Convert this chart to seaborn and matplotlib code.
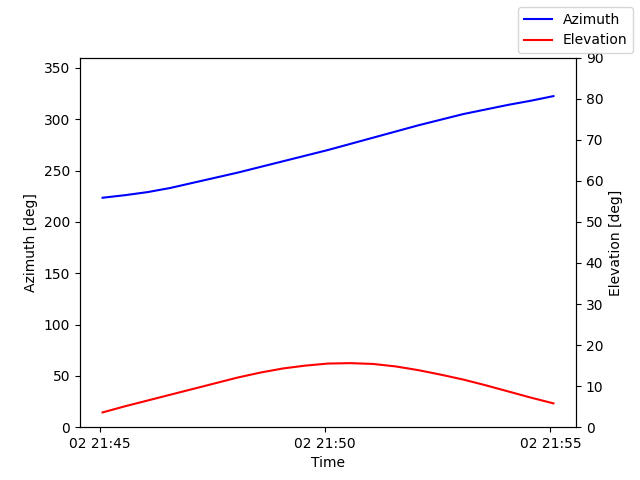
import numpy as np
import pandas as pd
import matplotlib
matplotlib.use("Agg")
import matplotlib.pyplot as plt
import matplotlib.dates as mdates
import seaborn as sns

times = pd.date_range("2024-01-02 21:45:04", periods=21, freq="30s")
azimuth = [223.5, 226, 229, 233, 238, 243, 248, 253.5, 259, 264.5, 270,
           276, 282, 288, 294, 299.5, 305, 309.5, 314, 318, 322.5]
elevation = [3.6, 5.1, 6.5, 7.9, 9.3, 10.7, 12.1, 13.3, 14.3, 15.0, 15.5,
             15.6, 15.4, 14.8, 13.9, 12.8, 11.6, 10.2, 8.7, 7.2, 5.8]

df = pd.DataFrame({"Time": times, "Azimuth": azimuth, "Elevation": elevation})

fig, ax = plt.subplots(figsize=(6.4, 4.8), dpi=100)
ax2 = ax.twinx()
sns.lineplot(data=df, x="Time", y="Azimuth", ax=ax, color="blue", label="Azimuth", legend=False)
sns.lineplot(data=df, x="Time", y="Elevation", ax=ax2, color="red", label="Elevation", legend=False)
ax.set_ylim(0, 360)
ax2.set_ylim(0, 90)
ax.set_xlabel("Time")
ax.set_ylabel("Azimuth [deg]")
ax2.set_ylabel("Elevation [deg]")
ax.xaxis.set_major_locator(mdates.MinuteLocator(byminute=range(0, 60, 5)))
ax.xaxis.set_major_formatter(mdates.DateFormatter("%d %H:%M"))
h1, l1 = ax.get_legend_handles_labels()
h2, l2 = ax2.get_legend_handles_labels()
fig.legend(h1 + h2, l1 + l2, loc="upper right")
fig.savefig("out.png", dpi=100)
